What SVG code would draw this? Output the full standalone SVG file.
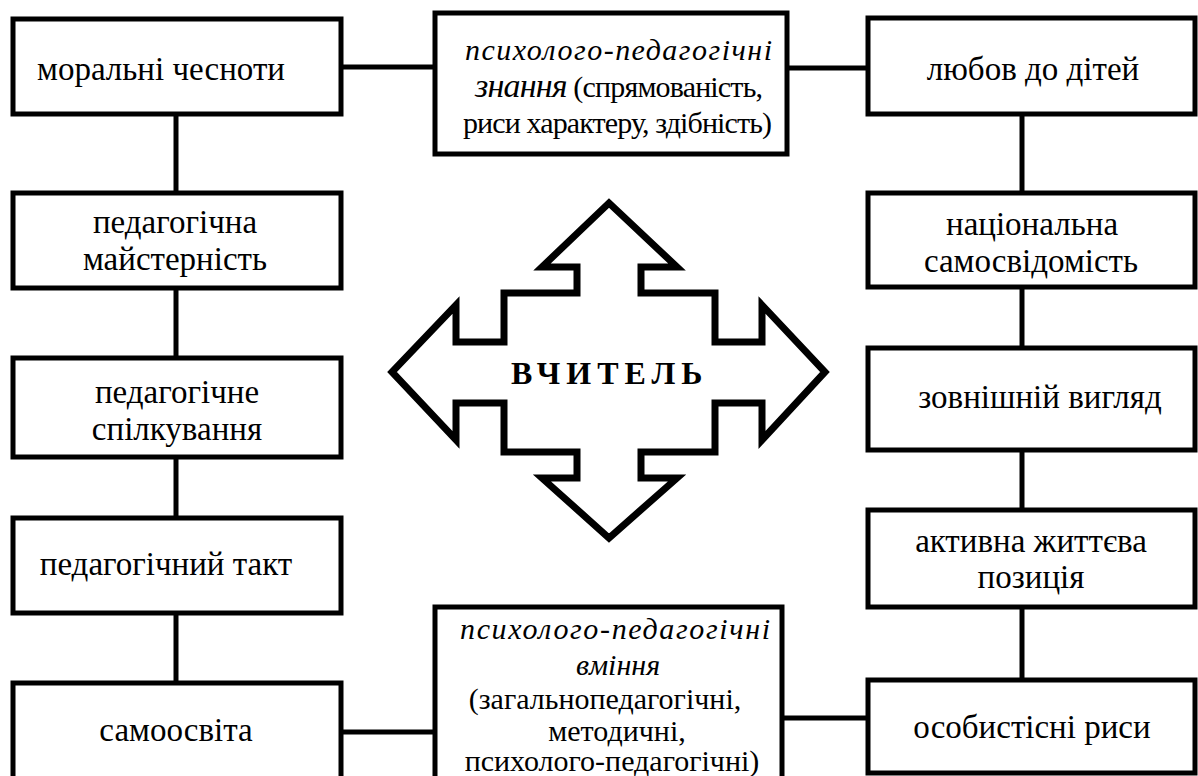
<svg xmlns="http://www.w3.org/2000/svg" width="1198" height="776" viewBox="0 0 1198 776">
<style>
.box{fill:#fff;stroke:#000;stroke-width:5}
.con{stroke:#000;stroke-width:5;fill:none}
.t{font-family:"Liberation Serif","Times New Roman",serif;font-size:33px;fill:#000;text-anchor:middle}
.c{font-family:"Liberation Serif","Times New Roman",serif;font-size:30px;fill:#000}
.m{text-anchor:middle}
.i{font-style:italic}
</style>
<rect width="1198" height="776" fill="#fff"/>
<g id="connectors">
<line class="con" x1="176" y1="114" x2="176" y2="193"/>
<line class="con" x1="176" y1="288" x2="176" y2="358"/>
<line class="con" x1="176" y1="457" x2="176" y2="518"/>
<line class="con" x1="176" y1="613" x2="176" y2="683"/>
<line class="con" x1="1022" y1="114" x2="1022" y2="193"/>
<line class="con" x1="1022" y1="287" x2="1022" y2="348"/>
<line class="con" x1="1022" y1="450" x2="1022" y2="510"/>
<line class="con" x1="1022" y1="607" x2="1022" y2="680"/>
<line class="con" x1="341" y1="67" x2="435" y2="67"/>
<line class="con" x1="787" y1="68" x2="868" y2="68"/>
<line class="con" x1="341" y1="732" x2="435" y2="732"/>
<line class="con" x1="782" y1="718" x2="868" y2="718"/>
</g>
<g id="n-moral"><rect class="box" x="13" y="19" width="328" height="95"/><text class="t" x="161" y="80">моральні чесноти</text></g>
<g id="n-maist"><rect class="box" x="13" y="193" width="328" height="95"/><text class="t" x="175" y="233">педагогічна</text><text class="t" x="175" y="270">майстерність</text></g>
<g id="n-spilk"><rect class="box" x="13" y="358" width="328" height="99"/><text class="t" x="177" y="403">педагогічне</text><text class="t" x="177" y="440">спілкування</text></g>
<g id="n-takt"><rect class="box" x="13" y="518" width="328" height="95"/><text class="t" x="166" y="575">педагогічний такт</text></g>
<g id="n-samoosv"><rect class="box" x="13" y="683" width="328" height="110"/><text class="t" x="176" y="741">самоосвіта</text></g>
<g id="n-znannia"><rect class="box" x="435" y="13" width="352" height="141"/>
<text class="c i" x="465" y="60" font-size="35" textLength="307">психолого-педагогічні</text>
<text class="c" x="475" y="97" textLength="288"><tspan class="i" font-size="34">знання</tspan> (спрямованість,</text>
<text class="c" x="463" y="133" textLength="309">риси характеру, здібність)</text></g>
<g id="n-vminnia"><rect class="box" x="435" y="607" width="347" height="190"/>
<text class="c i" x="460" y="639" font-size="35" textLength="310">психолого-педагогічні</text>
<text class="c i m" x="618" y="675" font-size="34">вміння</text>
<text class="c m" x="605" y="709">(загальнопедагогічні,</text>
<text class="c m" x="617" y="741" font-size="28">методичні,</text>
<text class="c m" x="612" y="771">психолого-педагогічні)</text></g>
<g id="n-liubov"><rect class="box" x="868" y="18" width="327" height="96"/><text class="t" x="1033" y="80">любов до дітей</text></g>
<g id="n-nats"><rect class="box" x="868" y="193" width="327" height="94"/><text class="t" x="1032" y="235">національна</text><text class="t" x="1031" y="272">самосвідомість</text></g>
<g id="n-vyhliad"><rect class="box" x="868" y="348" width="327" height="102"/><text class="t" x="1040" y="408">зовнішній вигляд</text></g>
<g id="n-aktyv"><rect class="box" x="868" y="510" width="327" height="97"/><text class="t" x="1031" y="552">активна життєва</text><text class="t" x="1031" y="588">позиція</text></g>
<g id="n-osob"><rect class="box" x="868" y="680" width="327" height="93"/><text class="t" x="1032" y="738">особистісні риси</text></g>
<g id="n-vchytel">
<polygon points="609,203 677,267 641,267 641,293 715,293 715,342 762,342 762,305 825,372 762,440 762,403 715,403 715,452 641,452 641,478 677,478 609,538 542,478 577,478 577,452 504,452 504,403 456,403 456,440 392,372 456,305 456,342 504,342 504,293 577,293 577,267 542,267" fill="#fff" stroke="#000" stroke-width="7" stroke-linejoin="miter"/>
<text x="511" y="384" font-family="Liberation Serif,Times New Roman,serif" font-size="32" font-weight="bold" letter-spacing="6">ВЧИТЕЛЬ</text>
</g>
</svg>
